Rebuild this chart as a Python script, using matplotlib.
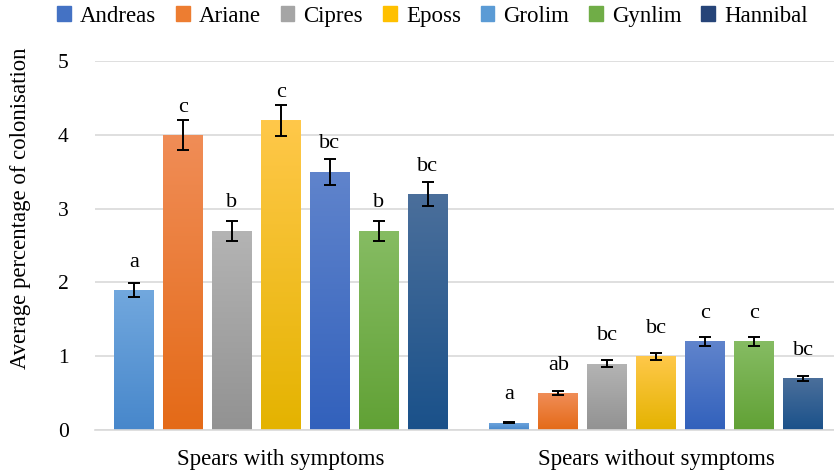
import numpy as np
import matplotlib.pyplot as plt
from matplotlib.colors import LinearSegmentedColormap
from matplotlib.patches import Patch

# data
groups = ['Spears with symptoms', 'Spears without symptoms']
cultivars = ['Andreas', 'Ariane', 'Cipres', 'Eposs', 'Grolim', 'Gynlim', 'Hannibal']
with_symptoms = [1.9, 4.0, 2.7, 4.2, 3.5, 2.7, 3.2]
without_symptoms = [0.1, 0.5, 0.9, 1.0, 1.2, 1.2, 0.7]
err_with = [0.095, 0.2, 0.135, 0.21, 0.175, 0.135, 0.16]
err_without = [0.005, 0.025, 0.045, 0.05, 0.06, 0.06, 0.035]
letters_with = ['a', 'c', 'b', 'c', 'bc', 'b', 'bc']
letters_without = ['a', 'ab', 'bc', 'bc', 'c', 'c', 'bc']

# legend swatches vs. bar gradients (top, bottom) as they appear in the figure
legend_colors = ['#4472C4', '#ED7D31', '#A5A5A5', '#FFC000', '#5B9BD5', '#70AD47', '#264478']
bar_grad = [('#72A8DE', '#4787CB'), ('#F08D57', '#E46A17'), ('#B4B4B4', '#929292'),
            ('#FFC84A', '#E4B300'), ('#6084CC', '#3261BC'), ('#86BC63', '#61A135'),
            ('#4B6F9B', '#1A518A')]

plt.rcParams['font.family'] = ['Liberation Serif', 'DejaVu Serif']

fig = plt.figure(figsize=(8.34, 4.75), dpi=100)
ax = fig.add_axes([0.1139, 0.0947, 0.8861, 0.7769])

step = 0.1305
width = 0.1065
values = [with_symptoms, without_symptoms]
errors = [err_with, err_without]
letters = [letters_with, letters_without]

for g in range(2):
    for i in range(7):
        x = g + (i - 3) * step
        v = values[g][i]
        bar = ax.bar(x, v, width=width, color='none', zorder=2)[0]
        cmap = LinearSegmentedColormap.from_list('g', [bar_grad[i][1], bar_grad[i][0]])
        grad = np.linspace(0, 1, 256).reshape(-1, 1)
        im = ax.imshow(grad, cmap=cmap, origin='lower', aspect='auto',
                       extent=[x - width / 2, x + width / 2, 0, v], zorder=2)
        im.set_clip_path(bar)
        ax.errorbar(x, v, yerr=errors[g][i], color='black', lw=1.4,
                    capsize=4, capthick=1.4, zorder=3)
        ax.annotate(letters[g][i], (x, v), xytext=(0, 20), textcoords='offset points',
                    ha='center', va='center', fontsize=16)

ax.set_xlim(-0.495, 1.473)
ax.set_ylim(0, 5)
ax.set_yticks([0, 1, 2, 3, 4, 5])
ax.yaxis.grid(True, color='#D9D9D9', lw=1.2)
ax.set_axisbelow(True)
for s in ['top', 'right', 'left']:
    ax.spines[s].set_visible(False)
ax.spines['bottom'].set_color('#D9D9D9')
ax.spines['bottom'].set_linewidth(1.2)
ax.tick_params(axis='y', length=0, pad=19, labelsize=15.5)
ax.tick_params(axis='x', length=0, pad=14, labelsize=16.5)
ax.set_xticks([0, 1])
ax.set_xticklabels(groups)

fig.text(0.024, 0.562, 'Average percentage of colonisation', rotation=90,
         ha='center', va='center', fontsize=16.4)

handles = [Patch(color=c) for c in legend_colors]
fig.legend(handles, cultivars, loc='center', bbox_to_anchor=(0.5186, 0.966), ncol=7,
           frameon=False, fontsize=16.5, handlelength=0.6, handleheight=0.6,
           handletextpad=0.4, columnspacing=0.86)

fig.savefig('out.png', dpi=100)
